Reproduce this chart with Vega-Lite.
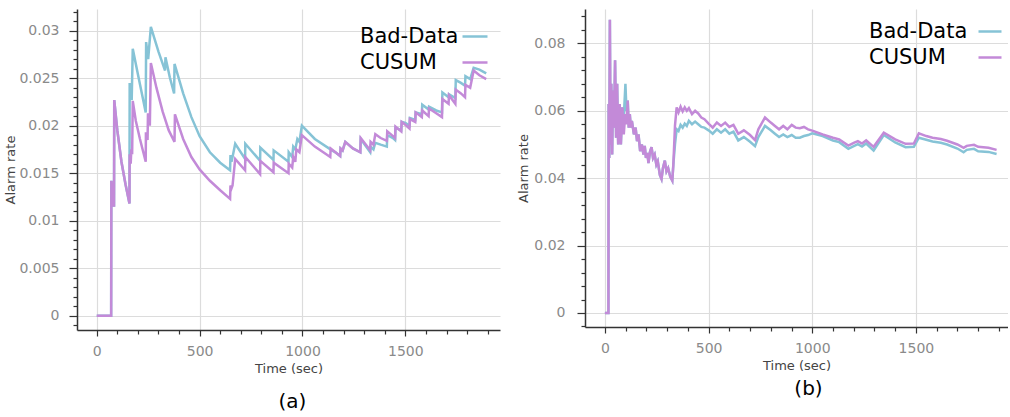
{
"$schema":"https://vega.github.io/schema/vega-lite/v6.json",
"padding":{"left":4,"top":4,"right":0,"bottom":0},
"spacing":17,
"resolve":{"scale":{"color":"independent"},"legend":{"color":"independent"}},
"config":{
"view":{"stroke":null},
"font":"DejaVu Sans",
"axis":{"domainColor":"#333333","domainWidth":1.5,"tickColor":"#333333","tickWidth":1.2,"labelColor":"#8a8a8a","labelFont":"DejaVu Sans","labelFontSize":14,"titleColor":"#444444","titleFont":"DejaVu Sans","titleFontSize":13,"titleFontWeight":"normal","gridColor":"#dcdcdc","gridWidth":1.2,"labelOverlap":false,"labelFlush":false,"labelBound":false},
"legend":{"labelFont":"DejaVu Sans","labelFontSize":21,"labelColor":"#000000","symbolSize":16,"symbolStrokeWidth":2.5,"symbolFillColor":"transparent","rowPadding":4,"padding":0,"labelLimit":0}
},
"datasets":{
"a":[
{"s":"Bad-Data","t":0,"v":0},{"s":"Bad-Data","t":70,"v":0},{"s":"Bad-Data","t":71,"v":0.0142},{"s":"Bad-Data","t":74,"v":0.0115},{"s":"Bad-Data","t":77,"v":0.014},{"s":"Bad-Data","t":80,"v":0.0116},{"s":"Bad-Data","t":84,"v":0.0116},{"s":"Bad-Data","t":85,"v":0.0227},{"s":"Bad-Data","t":100,"v":0.0195},{"s":"Bad-Data","t":120,"v":0.0162},{"s":"Bad-Data","t":140,"v":0.0138},{"s":"Bad-Data","t":159,"v":0.0118},{"s":"Bad-Data","t":160,"v":0.0245},{"s":"Bad-Data","t":166,"v":0.0228},{"s":"Bad-Data","t":170,"v":0.0228},{"s":"Bad-Data","t":175,"v":0.0281},{"s":"Bad-Data","t":200,"v":0.0254},{"s":"Bad-Data","t":220,"v":0.0233},{"s":"Bad-Data","t":238,"v":0.0214},{"s":"Bad-Data","t":240,"v":0.0288},{"s":"Bad-Data","t":250,"v":0.027},{"s":"Bad-Data","t":263,"v":0.0304},{"s":"Bad-Data","t":300,"v":0.0278},{"s":"Bad-Data","t":332,"v":0.0258},{"s":"Bad-Data","t":334,"v":0.0272},{"s":"Bad-Data","t":355,"v":0.0251},{"s":"Bad-Data","t":376,"v":0.0234},{"s":"Bad-Data","t":378,"v":0.0265},{"s":"Bad-Data","t":420,"v":0.0234},{"s":"Bad-Data","t":460,"v":0.0209},{"s":"Bad-Data","t":500,"v":0.0189},{"s":"Bad-Data","t":550,"v":0.0172},{"s":"Bad-Data","t":600,"v":0.0161},{"s":"Bad-Data","t":648,"v":0.0153},{"s":"Bad-Data","t":650,"v":0.0169},{"s":"Bad-Data","t":655,"v":0.0162},{"s":"Bad-Data","t":660,"v":0.0167},{"s":"Bad-Data","t":673,"v":0.0181},{"s":"Bad-Data","t":721,"v":0.0165},{"s":"Bad-Data","t":722,"v":0.0181},{"s":"Bad-Data","t":794,"v":0.0163},{"s":"Bad-Data","t":795,"v":0.0177},{"s":"Bad-Data","t":859,"v":0.0164},{"s":"Bad-Data","t":860,"v":0.0174},{"s":"Bad-Data","t":932,"v":0.0162},{"s":"Bad-Data","t":933,"v":0.0172},{"s":"Bad-Data","t":950,"v":0.0167},{"s":"Bad-Data","t":955,"v":0.0178},{"s":"Bad-Data","t":965,"v":0.0175},{"s":"Bad-Data","t":975,"v":0.0186},{"s":"Bad-Data","t":985,"v":0.0183},{"s":"Bad-Data","t":997,"v":0.02},{"s":"Bad-Data","t":1060,"v":0.0186},{"s":"Bad-Data","t":1143,"v":0.0174},{"s":"Bad-Data","t":1160,"v":0.0172},{"s":"Bad-Data","t":1183,"v":0.0168},{"s":"Bad-Data","t":1185,"v":0.0176},{"s":"Bad-Data","t":1195,"v":0.0174},{"s":"Bad-Data","t":1208,"v":0.0183},{"s":"Bad-Data","t":1245,"v":0.0176},{"s":"Bad-Data","t":1281,"v":0.0172},{"s":"Bad-Data","t":1283,"v":0.0186},{"s":"Bad-Data","t":1329,"v":0.0172},{"s":"Bad-Data","t":1331,"v":0.0178},{"s":"Bad-Data","t":1345,"v":0.0175},{"s":"Bad-Data","t":1354,"v":0.0182},{"s":"Bad-Data","t":1380,"v":0.018},{"s":"Bad-Data","t":1410,"v":0.0178},{"s":"Bad-Data","t":1412,"v":0.019},{"s":"Bad-Data","t":1440,"v":0.0187},{"s":"Bad-Data","t":1450,"v":0.0185},{"s":"Bad-Data","t":1452,"v":0.0198},{"s":"Bad-Data","t":1480,"v":0.0195},{"s":"Bad-Data","t":1482,"v":0.0204},{"s":"Bad-Data","t":1500,"v":0.0203},{"s":"Bad-Data","t":1520,"v":0.02},{"s":"Bad-Data","t":1522,"v":0.0208},{"s":"Bad-Data","t":1548,"v":0.0206},{"s":"Bad-Data","t":1550,"v":0.0214},{"s":"Bad-Data","t":1580,"v":0.0212},{"s":"Bad-Data","t":1582,"v":0.0222},{"s":"Bad-Data","t":1613,"v":0.0217},{"s":"Bad-Data","t":1615,"v":0.022},{"s":"Bad-Data","t":1650,"v":0.0216},{"s":"Bad-Data","t":1678,"v":0.0214},{"s":"Bad-Data","t":1680,"v":0.0235},{"s":"Bad-Data","t":1710,"v":0.023},{"s":"Bad-Data","t":1712,"v":0.0233},{"s":"Bad-Data","t":1743,"v":0.0229},{"s":"Bad-Data","t":1745,"v":0.0248},{"s":"Bad-Data","t":1770,"v":0.0245},{"s":"Bad-Data","t":1790,"v":0.0242},{"s":"Bad-Data","t":1792,"v":0.0252},{"s":"Bad-Data","t":1815,"v":0.0249},{"s":"Bad-Data","t":1832,"v":0.0261},{"s":"Bad-Data","t":1860,"v":0.0259},{"s":"Bad-Data","t":1893,"v":0.0255},
{"s":"CUSUM","t":0,"v":0},{"s":"CUSUM","t":70,"v":0},{"s":"CUSUM","t":71,"v":0.0142},{"s":"CUSUM","t":74,"v":0.0115},{"s":"CUSUM","t":77,"v":0.014},{"s":"CUSUM","t":80,"v":0.0116},{"s":"CUSUM","t":84,"v":0.0116},{"s":"CUSUM","t":85,"v":0.0227},{"s":"CUSUM","t":100,"v":0.0195},{"s":"CUSUM","t":120,"v":0.0162},{"s":"CUSUM","t":140,"v":0.0138},{"s":"CUSUM","t":159,"v":0.0118},{"s":"CUSUM","t":160,"v":0.017},{"s":"CUSUM","t":165,"v":0.016},{"s":"CUSUM","t":168,"v":0.0175},{"s":"CUSUM","t":172,"v":0.017},{"s":"CUSUM","t":175,"v":0.0226},{"s":"CUSUM","t":190,"v":0.0205},{"s":"CUSUM","t":210,"v":0.0186},{"s":"CUSUM","t":238,"v":0.0162},{"s":"CUSUM","t":239,"v":0.0193},{"s":"CUSUM","t":247,"v":0.0185},{"s":"CUSUM","t":249,"v":0.0213},{"s":"CUSUM","t":258,"v":0.02},{"s":"CUSUM","t":263,"v":0.0266},{"s":"CUSUM","t":290,"v":0.024},{"s":"CUSUM","t":320,"v":0.0215},{"s":"CUSUM","t":350,"v":0.0195},{"s":"CUSUM","t":378,"v":0.0183},{"s":"CUSUM","t":380,"v":0.0212},{"s":"CUSUM","t":420,"v":0.0186},{"s":"CUSUM","t":460,"v":0.0167},{"s":"CUSUM","t":500,"v":0.0154},{"s":"CUSUM","t":550,"v":0.0142},{"s":"CUSUM","t":600,"v":0.0132},{"s":"CUSUM","t":648,"v":0.0123},{"s":"CUSUM","t":650,"v":0.0137},{"s":"CUSUM","t":655,"v":0.0134},{"s":"CUSUM","t":660,"v":0.0137},{"s":"CUSUM","t":673,"v":0.0165},{"s":"CUSUM","t":721,"v":0.0153},{"s":"CUSUM","t":722,"v":0.0167},{"s":"CUSUM","t":794,"v":0.0149},{"s":"CUSUM","t":795,"v":0.0163},{"s":"CUSUM","t":859,"v":0.0151},{"s":"CUSUM","t":860,"v":0.0161},{"s":"CUSUM","t":932,"v":0.015},{"s":"CUSUM","t":933,"v":0.016},{"s":"CUSUM","t":950,"v":0.0156},{"s":"CUSUM","t":955,"v":0.0167},{"s":"CUSUM","t":965,"v":0.0162},{"s":"CUSUM","t":970,"v":0.0175},{"s":"CUSUM","t":985,"v":0.0172},{"s":"CUSUM","t":997,"v":0.019},{"s":"CUSUM","t":1060,"v":0.0178},{"s":"CUSUM","t":1135,"v":0.0167},{"s":"CUSUM","t":1137,"v":0.0176},{"s":"CUSUM","t":1160,"v":0.0172},{"s":"CUSUM","t":1183,"v":0.0168},{"s":"CUSUM","t":1185,"v":0.0176},{"s":"CUSUM","t":1195,"v":0.0174},{"s":"CUSUM","t":1208,"v":0.0183},{"s":"CUSUM","t":1245,"v":0.0176},{"s":"CUSUM","t":1281,"v":0.0172},{"s":"CUSUM","t":1283,"v":0.0187},{"s":"CUSUM","t":1329,"v":0.0174},{"s":"CUSUM","t":1331,"v":0.0183},{"s":"CUSUM","t":1345,"v":0.018},{"s":"CUSUM","t":1354,"v":0.0191},{"s":"CUSUM","t":1380,"v":0.0187},{"s":"CUSUM","t":1410,"v":0.0184},{"s":"CUSUM","t":1412,"v":0.0194},{"s":"CUSUM","t":1440,"v":0.0189},{"s":"CUSUM","t":1450,"v":0.0187},{"s":"CUSUM","t":1452,"v":0.0199},{"s":"CUSUM","t":1480,"v":0.0194},{"s":"CUSUM","t":1482,"v":0.0204},{"s":"CUSUM","t":1500,"v":0.0201},{"s":"CUSUM","t":1520,"v":0.0197},{"s":"CUSUM","t":1522,"v":0.0207},{"s":"CUSUM","t":1548,"v":0.0204},{"s":"CUSUM","t":1550,"v":0.0214},{"s":"CUSUM","t":1580,"v":0.0209},{"s":"CUSUM","t":1582,"v":0.0216},{"s":"CUSUM","t":1613,"v":0.021},{"s":"CUSUM","t":1615,"v":0.0218},{"s":"CUSUM","t":1650,"v":0.0213},{"s":"CUSUM","t":1678,"v":0.0209},{"s":"CUSUM","t":1680,"v":0.0228},{"s":"CUSUM","t":1710,"v":0.0223},{"s":"CUSUM","t":1712,"v":0.0232},{"s":"CUSUM","t":1743,"v":0.0223},{"s":"CUSUM","t":1745,"v":0.0238},{"s":"CUSUM","t":1770,"v":0.0234},{"s":"CUSUM","t":1790,"v":0.023},{"s":"CUSUM","t":1792,"v":0.0243},{"s":"CUSUM","t":1815,"v":0.024},{"s":"CUSUM","t":1832,"v":0.0258},{"s":"CUSUM","t":1860,"v":0.0253},{"s":"CUSUM","t":1893,"v":0.0249}
],
"b":[
{"s":"Bad-Data","t":0,"v":0},{"s":"Bad-Data","t":17,"v":0},{"s":"Bad-Data","t":18,"v":0.062},{"s":"Bad-Data","t":21,"v":0.046},{"s":"Bad-Data","t":24,"v":0.087},{"s":"Bad-Data","t":27,"v":0.05},{"s":"Bad-Data","t":31,"v":0.068},{"s":"Bad-Data","t":35,"v":0.047},{"s":"Bad-Data","t":39,"v":0.066},{"s":"Bad-Data","t":44,"v":0.055},{"s":"Bad-Data","t":49,"v":0.075},{"s":"Bad-Data","t":54,"v":0.052},{"s":"Bad-Data","t":59,"v":0.068},{"s":"Bad-Data","t":64,"v":0.05},{"s":"Bad-Data","t":71,"v":0.062},{"s":"Bad-Data","t":77,"v":0.05},{"s":"Bad-Data","t":84,"v":0.061},{"s":"Bad-Data","t":91,"v":0.058},{"s":"Bad-Data","t":99,"v":0.068},{"s":"Bad-Data","t":104,"v":0.06},{"s":"Bad-Data","t":110,"v":0.063},{"s":"Bad-Data","t":115,"v":0.055},{"s":"Bad-Data","t":120,"v":0.059},{"s":"Bad-Data","t":125,"v":0.055},{"s":"Bad-Data","t":130,"v":0.057},{"s":"Bad-Data","t":140,"v":0.053},{"s":"Bad-Data","t":148,"v":0.055},{"s":"Bad-Data","t":155,"v":0.051},{"s":"Bad-Data","t":162,"v":0.053},{"s":"Bad-Data","t":170,"v":0.048},{"s":"Bad-Data","t":178,"v":0.05},{"s":"Bad-Data","t":186,"v":0.047},{"s":"Bad-Data","t":192,"v":0.0496},{"s":"Bad-Data","t":198,"v":0.046},{"s":"Bad-Data","t":205,"v":0.0475},{"s":"Bad-Data","t":210,"v":0.0445},{"s":"Bad-Data","t":218,"v":0.048},{"s":"Bad-Data","t":225,"v":0.0492},{"s":"Bad-Data","t":232,"v":0.046},{"s":"Bad-Data","t":240,"v":0.047},{"s":"Bad-Data","t":248,"v":0.044},{"s":"Bad-Data","t":255,"v":0.045},{"s":"Bad-Data","t":265,"v":0.041},{"s":"Bad-Data","t":273,"v":0.0398},{"s":"Bad-Data","t":280,"v":0.043},{"s":"Bad-Data","t":289,"v":0.0452},{"s":"Bad-Data","t":297,"v":0.042},{"s":"Bad-Data","t":305,"v":0.043},{"s":"Bad-Data","t":315,"v":0.0405},{"s":"Bad-Data","t":325,"v":0.0393},{"s":"Bad-Data","t":330,"v":0.044},{"s":"Bad-Data","t":338,"v":0.05},{"s":"Bad-Data","t":346,"v":0.0545},{"s":"Bad-Data","t":355,"v":0.054},{"s":"Bad-Data","t":365,"v":0.0558},{"s":"Bad-Data","t":375,"v":0.055},{"s":"Bad-Data","t":385,"v":0.0562},{"s":"Bad-Data","t":395,"v":0.0555},{"s":"Bad-Data","t":405,"v":0.057},{"s":"Bad-Data","t":420,"v":0.056},{"s":"Bad-Data","t":435,"v":0.0568},{"s":"Bad-Data","t":450,"v":0.056},{"s":"Bad-Data","t":465,"v":0.0552},{"s":"Bad-Data","t":480,"v":0.055},{"s":"Bad-Data","t":500,"v":0.0542},{"s":"Bad-Data","t":520,"v":0.0532},{"s":"Bad-Data","t":540,"v":0.0545},{"s":"Bad-Data","t":560,"v":0.0535},{"s":"Bad-Data","t":580,"v":0.0545},{"s":"Bad-Data","t":600,"v":0.0532},{"s":"Bad-Data","t":620,"v":0.0538},{"s":"Bad-Data","t":643,"v":0.0512},{"s":"Bad-Data","t":670,"v":0.0522},{"s":"Bad-Data","t":700,"v":0.0508},{"s":"Bad-Data","t":724,"v":0.0495},{"s":"Bad-Data","t":740,"v":0.0522},{"s":"Bad-Data","t":772,"v":0.0555},{"s":"Bad-Data","t":800,"v":0.0542},{"s":"Bad-Data","t":820,"v":0.0532},{"s":"Bad-Data","t":840,"v":0.0522},{"s":"Bad-Data","t":860,"v":0.053},{"s":"Bad-Data","t":880,"v":0.0522},{"s":"Bad-Data","t":901,"v":0.0528},{"s":"Bad-Data","t":920,"v":0.052},{"s":"Bad-Data","t":940,"v":0.052},{"s":"Bad-Data","t":960,"v":0.0525},{"s":"Bad-Data","t":980,"v":0.0528},{"s":"Bad-Data","t":1000,"v":0.0533},{"s":"Bad-Data","t":1050,"v":0.0525},{"s":"Bad-Data","t":1100,"v":0.0512},{"s":"Bad-Data","t":1130,"v":0.0507},{"s":"Bad-Data","t":1174,"v":0.0487},{"s":"Bad-Data","t":1200,"v":0.0495},{"s":"Bad-Data","t":1220,"v":0.0501},{"s":"Bad-Data","t":1240,"v":0.0494},{"s":"Bad-Data","t":1260,"v":0.0503},{"s":"Bad-Data","t":1296,"v":0.0482},{"s":"Bad-Data","t":1345,"v":0.0528},{"s":"Bad-Data","t":1400,"v":0.0506},{"s":"Bad-Data","t":1450,"v":0.0492},{"s":"Bad-Data","t":1490,"v":0.0493},{"s":"Bad-Data","t":1514,"v":0.052},{"s":"Bad-Data","t":1550,"v":0.0514},{"s":"Bad-Data","t":1580,"v":0.0509},{"s":"Bad-Data","t":1620,"v":0.0505},{"s":"Bad-Data","t":1650,"v":0.05},{"s":"Bad-Data","t":1700,"v":0.0488},{"s":"Bad-Data","t":1730,"v":0.0477},{"s":"Bad-Data","t":1745,"v":0.0484},{"s":"Bad-Data","t":1780,"v":0.0487},{"s":"Bad-Data","t":1800,"v":0.048},{"s":"Bad-Data","t":1850,"v":0.0478},{"s":"Bad-Data","t":1889,"v":0.0472},
{"s":"CUSUM","t":0,"v":0},{"s":"CUSUM","t":17,"v":0},{"s":"CUSUM","t":18,"v":0.062},{"s":"CUSUM","t":21,"v":0.046},{"s":"CUSUM","t":24,"v":0.087},{"s":"CUSUM","t":27,"v":0.05},{"s":"CUSUM","t":31,"v":0.068},{"s":"CUSUM","t":35,"v":0.047},{"s":"CUSUM","t":39,"v":0.066},{"s":"CUSUM","t":44,"v":0.055},{"s":"CUSUM","t":49,"v":0.075},{"s":"CUSUM","t":54,"v":0.052},{"s":"CUSUM","t":59,"v":0.068},{"s":"CUSUM","t":64,"v":0.05},{"s":"CUSUM","t":71,"v":0.062},{"s":"CUSUM","t":77,"v":0.05},{"s":"CUSUM","t":84,"v":0.061},{"s":"CUSUM","t":91,"v":0.053},{"s":"CUSUM","t":98,"v":0.059},{"s":"CUSUM","t":104,"v":0.056},{"s":"CUSUM","t":110,"v":0.063},{"s":"CUSUM","t":115,"v":0.055},{"s":"CUSUM","t":120,"v":0.059},{"s":"CUSUM","t":125,"v":0.055},{"s":"CUSUM","t":130,"v":0.057},{"s":"CUSUM","t":140,"v":0.053},{"s":"CUSUM","t":148,"v":0.055},{"s":"CUSUM","t":155,"v":0.051},{"s":"CUSUM","t":162,"v":0.053},{"s":"CUSUM","t":170,"v":0.048},{"s":"CUSUM","t":178,"v":0.05},{"s":"CUSUM","t":186,"v":0.047},{"s":"CUSUM","t":192,"v":0.0496},{"s":"CUSUM","t":198,"v":0.046},{"s":"CUSUM","t":205,"v":0.0475},{"s":"CUSUM","t":210,"v":0.0445},{"s":"CUSUM","t":218,"v":0.048},{"s":"CUSUM","t":225,"v":0.0492},{"s":"CUSUM","t":232,"v":0.046},{"s":"CUSUM","t":240,"v":0.047},{"s":"CUSUM","t":248,"v":0.044},{"s":"CUSUM","t":255,"v":0.045},{"s":"CUSUM","t":265,"v":0.041},{"s":"CUSUM","t":273,"v":0.0398},{"s":"CUSUM","t":280,"v":0.043},{"s":"CUSUM","t":289,"v":0.0452},{"s":"CUSUM","t":297,"v":0.042},{"s":"CUSUM","t":305,"v":0.043},{"s":"CUSUM","t":315,"v":0.0405},{"s":"CUSUM","t":325,"v":0.0393},{"s":"CUSUM","t":330,"v":0.044},{"s":"CUSUM","t":338,"v":0.0556},{"s":"CUSUM","t":346,"v":0.061},{"s":"CUSUM","t":355,"v":0.0595},{"s":"CUSUM","t":365,"v":0.0612},{"s":"CUSUM","t":375,"v":0.0598},{"s":"CUSUM","t":385,"v":0.061},{"s":"CUSUM","t":395,"v":0.06},{"s":"CUSUM","t":405,"v":0.0608},{"s":"CUSUM","t":420,"v":0.059},{"s":"CUSUM","t":435,"v":0.06},{"s":"CUSUM","t":450,"v":0.0592},{"s":"CUSUM","t":465,"v":0.058},{"s":"CUSUM","t":480,"v":0.0575},{"s":"CUSUM","t":500,"v":0.0562},{"s":"CUSUM","t":520,"v":0.055},{"s":"CUSUM","t":540,"v":0.0565},{"s":"CUSUM","t":560,"v":0.0555},{"s":"CUSUM","t":580,"v":0.0565},{"s":"CUSUM","t":600,"v":0.0552},{"s":"CUSUM","t":620,"v":0.0558},{"s":"CUSUM","t":643,"v":0.0532},{"s":"CUSUM","t":670,"v":0.0542},{"s":"CUSUM","t":700,"v":0.0528},{"s":"CUSUM","t":724,"v":0.0513},{"s":"CUSUM","t":740,"v":0.0545},{"s":"CUSUM","t":772,"v":0.058},{"s":"CUSUM","t":800,"v":0.0565},{"s":"CUSUM","t":820,"v":0.0555},{"s":"CUSUM","t":840,"v":0.0545},{"s":"CUSUM","t":860,"v":0.0555},{"s":"CUSUM","t":880,"v":0.0545},{"s":"CUSUM","t":901,"v":0.0558},{"s":"CUSUM","t":920,"v":0.055},{"s":"CUSUM","t":940,"v":0.0548},{"s":"CUSUM","t":960,"v":0.0552},{"s":"CUSUM","t":980,"v":0.0545},{"s":"CUSUM","t":1000,"v":0.0541},{"s":"CUSUM","t":1050,"v":0.053},{"s":"CUSUM","t":1100,"v":0.052},{"s":"CUSUM","t":1130,"v":0.0515},{"s":"CUSUM","t":1174,"v":0.0497},{"s":"CUSUM","t":1200,"v":0.0505},{"s":"CUSUM","t":1220,"v":0.051},{"s":"CUSUM","t":1240,"v":0.0503},{"s":"CUSUM","t":1260,"v":0.0512},{"s":"CUSUM","t":1296,"v":0.0493},{"s":"CUSUM","t":1345,"v":0.0535},{"s":"CUSUM","t":1400,"v":0.0515},{"s":"CUSUM","t":1450,"v":0.0502},{"s":"CUSUM","t":1490,"v":0.0503},{"s":"CUSUM","t":1514,"v":0.0533},{"s":"CUSUM","t":1550,"v":0.0525},{"s":"CUSUM","t":1580,"v":0.052},{"s":"CUSUM","t":1620,"v":0.0516},{"s":"CUSUM","t":1650,"v":0.0511},{"s":"CUSUM","t":1700,"v":0.05},{"s":"CUSUM","t":1730,"v":0.049},{"s":"CUSUM","t":1745,"v":0.0496},{"s":"CUSUM","t":1780,"v":0.0499},{"s":"CUSUM","t":1800,"v":0.0493},{"s":"CUSUM","t":1850,"v":0.049},{"s":"CUSUM","t":1889,"v":0.0484}
]
},
"hconcat":[
{
"width":423,"height":321,
"data":{"name":"a"},
"title":{"text":"(a)","orient":"bottom","anchor":"middle","fontSize":20,"font":"DejaVu Sans","fontWeight":"normal","color":"#000000","offset":17,"dx":4},
"mark":{"type":"line","strokeWidth":2.5},
"encoding":{
"x":{"field":"t","type":"quantitative","scale":{"domain":[-96,1960],"nice":false,"zero":false},
"axis":{"title":"Time (sec)","values":[0,100,200,300,400,500,600,700,800,900,1000,1100,1200,1300,1400,1500,1600,1700,1800,1900],
"labelExpr":"datum.value % 500 == 0 ? format(datum.value, '~g') : ''",
"tickSize":{"condition":{"test":"datum.value % 500 == 0","value":6},"value":4},
"gridOpacity":{"condition":{"test":"datum.value % 500 == 0","value":1},"value":0},
"labelPadding":8,"titlePadding":4}},
"y":{"field":"v","type":"quantitative","scale":{"domain":[-0.001505,0.03228],"nice":false,"zero":false},
"axis":{"title":"Alarm rate","values":[-0.001,0,0.001,0.002,0.003,0.004,0.005,0.006,0.007,0.008,0.009,0.01,0.011,0.012,0.013,0.014,0.015,0.016,0.017,0.018,0.019,0.02,0.021,0.022,0.023,0.024,0.025,0.026,0.027,0.028,0.029,0.03,0.031,0.032],
"labelExpr":"abs(datum.value/0.005 - round(datum.value/0.005)) < 1e-6 ? format(datum.value, '~g') : ''",
"tickSize":{"condition":{"test":"abs(datum.value/0.005 - round(datum.value/0.005)) < 1e-6","value":8},"value":4},
"gridOpacity":{"condition":{"test":"abs(datum.value/0.005 - round(datum.value/0.005)) < 1e-6","value":1},"value":0},
"labelPadding":10,"titlePadding":1}},
"color":{"field":"s","type":"nominal","scale":{"domain":["Bad-Data","CUSUM"],"range":["#86c3d6","#c38ad8"]},
"legend":{"title":null,"orient":"none","legendX":258,"legendY":17,"symbolType":"M 58.5 0 L 71 0"}}
}
},
{
"width":423,"height":318,
"data":{"name":"b"},
"title":{"text":"(b)","orient":"bottom","anchor":"middle","fontSize":20,"font":"DejaVu Sans","fontWeight":"normal","color":"#000000","offset":7,"dx":12},
"mark":{"type":"line","strokeWidth":2.5},
"encoding":{
"x":{"field":"t","type":"quantitative","scale":{"domain":[-96,1944],"nice":false,"zero":false},
"axis":{"title":"Time (sec)","values":[0,100,200,300,400,500,600,700,800,900,1000,1100,1200,1300,1400,1500,1600,1700,1800,1900],
"labelExpr":"datum.value % 500 == 0 ? format(datum.value, '~g') : ''",
"tickSize":{"condition":{"test":"datum.value % 500 == 0","value":6},"value":4},
"gridOpacity":{"condition":{"test":"datum.value % 500 == 0","value":1},"value":0},
"labelPadding":8,"titlePadding":4}},
"y":{"field":"v","type":"quantitative","scale":{"domain":[-0.004154,0.0902],"nice":false,"zero":false},
"axis":{"title":"Alarm rate","values":[-0.004,0,0.004,0.008,0.012,0.016,0.02,0.024,0.028,0.032,0.036,0.04,0.044,0.048,0.052,0.056,0.06,0.064,0.068,0.072,0.076,0.08,0.084,0.088],
"labelExpr":"abs(datum.value/0.02 - round(datum.value/0.02)) < 1e-6 ? format(datum.value, '~g') : ''",
"tickSize":{"condition":{"test":"abs(datum.value/0.02 - round(datum.value/0.02)) < 1e-6","value":8},"value":4},
"gridOpacity":{"condition":{"test":"abs(datum.value/0.02 - round(datum.value/0.02)) < 1e-6","value":1},"value":0},
"labelPadding":12,"titlePadding":3}},
"color":{"field":"s","type":"nominal","scale":{"domain":["Bad-Data","CUSUM"],"range":["#86c3d6","#c38ad8"]},
"legend":{"title":null,"orient":"none","legendX":259,"legendY":12,"symbolType":"M 62 0 L 73.5 0"}}
}
}
]
}
